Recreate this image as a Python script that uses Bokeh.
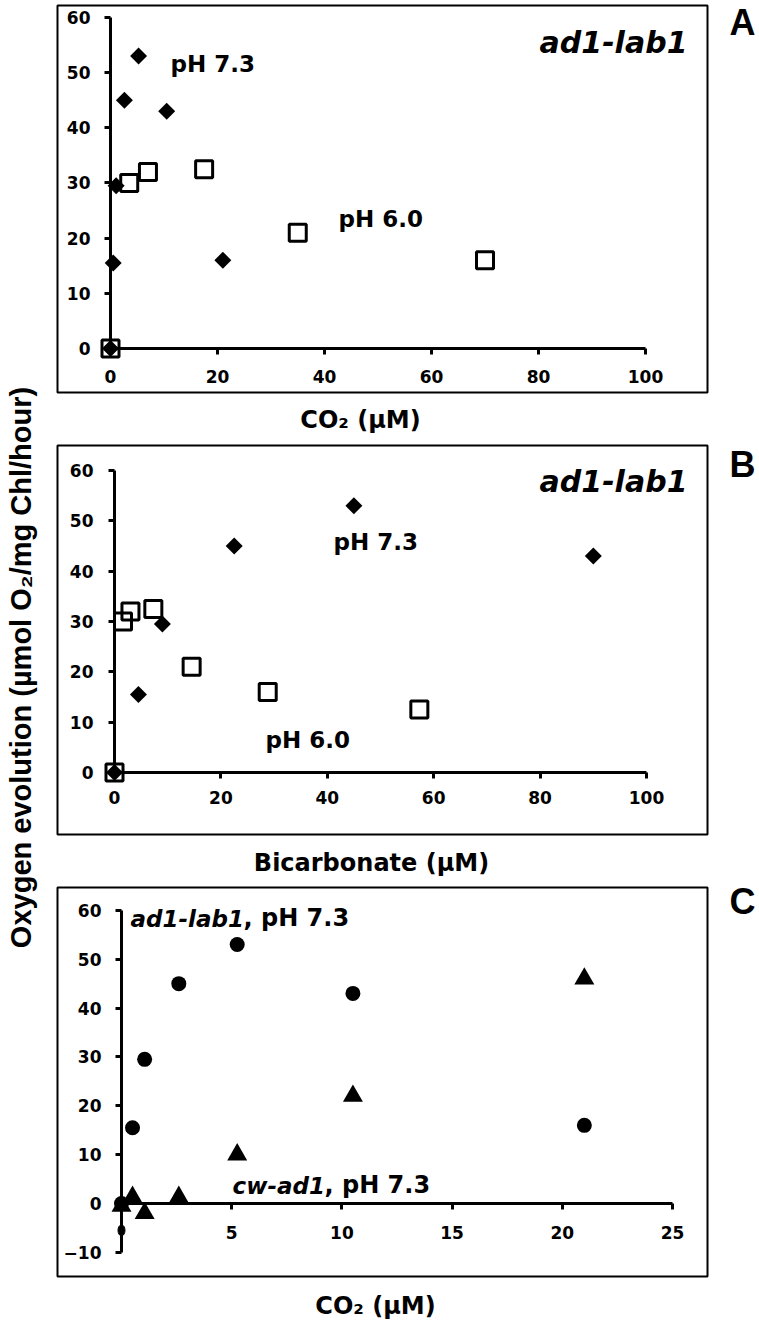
import numpy as np
from bokeh.plotting import figure
from bokeh.models import Range1d, FixedTicker, Label, BoxAnnotation
from bokeh.layouts import row, column
from bokeh.embed import file_html
from bokeh.resources import INLINE

# ---------------- data ----------------
# Panel A: O2 evolution vs CO2 (uM)
a_ph73_co2 = [0, 0.5, 1.05, 2.6, 5.25, 10.5, 21]
a_ph73_o2 = [0, 15.5, 29.5, 45, 53, 43, 16]
a_ph60_co2 = [0, 3.5, 7, 17.5, 35, 70]
a_ph60_o2 = [0, 30, 32, 32.5, 21, 16]
# Panel B: O2 evolution vs bicarbonate (uM)
b_ph73_hco3 = [0, 4.5, 9, 22.5, 45, 90]
b_ph73_o2 = [0, 15.5, 29.5, 45, 53, 43]
b_ph60_hco3 = [0, 1.6, 3.0, 7.3, 14.5, 28.8, 57.3]
b_ph60_o2 = [0, 30, 32, 32.5, 21, 16, 12.5]
# Panel C: O2 evolution vs CO2 (uM) at pH 7.3
c_co2 = [0, 0.5, 1.05, 2.6, 5.25, 10.5, 21]
c_ad1lab1_o2 = [0, 15.5, 29.5, 45, 53, 43, 16]
c_cwad1_o2 = [-0.5, 1.3, -2, 1.3, 10, 22, 46]
c_extra_co2 = [0]
c_extra_o2 = [-5.5]

# tick labels
ticks_ab_x = [0, 20, 40, 60, 80, 100]
ticks_ab_y = [0, 10, 20, 30, 40, 50, 60]
ticks_c_x = [5, 10, 15, 20, 25]
ticks_c_y = [-10, 0, 10, 20, 30, 40, 50, 60]

# ---------------- layout geometry (page pixels) ----------------
PAGE_BOTTOM = 1324
LEFT_W = 40
PANEL_X0 = LEFT_W
FIG_W = 718
BOX_L, BOX_R = 57, 707
BASE_K = 0.38   # label anchor offset (fraction of font size) to land on the baseline

TICK_FONT = "DejaVu Sans"
ANN_FONT = "DejaVu Sans"
TITLE_FONT = "DejaVu Sans"


def make_panel(fig_top, fig_bot, box_top, box_bot, x0px, xpu, y0px, ypu,
               xbounds, ybounds, xticks, yticks, xstand, ystand):
    def dx(px):
        return (px - x0px) / xpu

    def dy(py):
        return (y0px - py) / ypu

    p = figure(width=FIG_W, height=fig_bot - fig_top,
               x_range=Range1d(dx(PANEL_X0), dx(PANEL_X0 + FIG_W)),
               y_range=Range1d(dy(fig_bot), dy(fig_top)),
               min_border=0, toolbar_location=None, output_backend="svg")
    p.background_fill_color = "white"
    p.border_fill_color = "white"
    p.outline_line_color = None
    p.xgrid.visible = False
    p.ygrid.visible = False
    p.add_layout(BoxAnnotation(left=dx(BOX_L), right=dx(BOX_R),
                               top=dy(box_top), bottom=dy(box_bot),
                               fill_color=None, fill_alpha=0,
                               line_color="black", line_width=2, line_alpha=1))
    for ax, b, t, st in ((p.xaxis, xbounds, xticks, xstand), (p.yaxis, ybounds, yticks, ystand)):
        ax.fixed_location = 0
        ax.bounds = b
        ax.ticker = FixedTicker(ticks=t)
        ax.axis_line_width = 3
        ax.axis_line_color = "black"
        ax.major_tick_line_width = 3
        ax.major_tick_line_color = "black"
        ax.major_tick_out = 6
        ax.major_tick_in = 0
        ax.minor_tick_line_color = None
        ax.major_label_text_font = TICK_FONT
        ax.major_label_text_font_style = "bold"
        ax.major_label_text_font_size = "17px"
        ax.major_label_text_color = "black"
        ax.major_label_standoff = st

    def label(text, px, py, align="left", font=ANN_FONT, style="bold", size=23):
        p.add_layout(Label(x=dx(px), y=dy(py - BASE_K * size), text=text, text_font=font,
                           text_font_style=style, text_font_size=f"{size}px",
                           text_color="black", text_align=align,
                           text_baseline="alphabetic"))
    return p, label


# ---------------- panel A ----------------
pA, labA = make_panel(0, 440, 5, 392, 110, 5.35, 348, 5.517,
                      (0, 100), (0, 60), ticks_ab_x, ticks_ab_y, 15, 14)
pA.scatter(a_ph60_co2, a_ph60_o2, marker="square", size=17, fill_color=None,
           line_color="black", line_width=3)
pA.scatter(a_ph73_co2, a_ph73_o2, marker="square", angle=np.pi / 4, size=12,
           fill_color="black", line_color="black", line_width=0)
labA("ad1-lab1", 687, 53, align="right", style="bold italic", size=30)
labA("pH 7.3", 170, 72)
labA("pH 6.0", 338, 227)
labA("CO\u2082 (\u00b5M)", 360, 429, align="center", font=TITLE_FONT, size=24)
labA("A", 755, 36, align="right", font="Liberation Sans", size=36)

# ---------------- panel B ----------------
pB, labB = make_panel(440, 880, 445, 834, 114, 5.32, 772, 5.033,
                      (0, 100), (0, 60), ticks_ab_x, ticks_ab_y, 12, 15)
pB.scatter(b_ph60_hco3, b_ph60_o2, marker="square", size=17, fill_color=None,
           line_color="black", line_width=3)
pB.scatter(b_ph73_hco3, b_ph73_o2, marker="square", angle=np.pi / 4, size=12,
           fill_color="black", line_color="black", line_width=0)
labB("ad1-lab1", 687, 492, align="right", style="bold italic", size=30)
labB("pH 7.3", 333, 550)
labB("pH 6.0", 265, 748)
labB("Bicarbonate (\u00b5M)", 371, 872, align="center", font=TITLE_FONT, size=24)
labB("B", 755, 478, align="right", font="Liberation Sans", size=36)

# ---------------- panel C ----------------
pC, labC = make_panel(880, PAGE_BOTTOM, 887, 1276, 121, 22.04, 1203, 4.886,
                      (0, 25), (-10, 60), ticks_c_x, ticks_c_y, 16, 14)
pC.scatter(c_co2, c_cwad1_o2, marker="triangle", size=20, fill_color="black",
           line_color="black", line_width=0)
pC.scatter(c_co2, c_ad1lab1_o2, marker="circle", size=15, fill_color="black",
           line_color="black", line_width=0)
pC.ellipse(x=c_extra_co2, y=c_extra_o2, width=7, height=11, width_units="screen",
           height_units="screen", fill_color="black", line_color="black")
labC("ad1-lab1", 130, 927, style="bold italic")
labC(", pH 7.3", 243, 927, size=24)
labC("cw-ad1", 232, 1194, style="bold italic")
labC(", pH 7.3", 324, 1194, size=24)
labC("CO\u2082 (\u00b5M)", 375, 1315, align="center", font=TITLE_FONT, size=24)
labC("C", 755, 915, align="right", font="Liberation Sans", size=36)

# ---------------- shared y title ----------------
left = figure(width=LEFT_W, height=PAGE_BOTTOM, x_range=Range1d(0, LEFT_W),
              y_range=Range1d(0, PAGE_BOTTOM), min_border=0,
              x_axis_location=None, y_axis_location=None,
              toolbar_location=None, output_backend="svg")
left.outline_line_color = None
left.grid.visible = False
left.background_fill_color = "white"
left.border_fill_color = "white"
left.add_layout(Label(x=20, y=PAGE_BOTTOM - 667, angle=np.pi / 2,
                      text="Oxygen evolution (\u00b5mol O\u2082/mg Chl/hour)",
                      text_font="Liberation Sans", text_font_style="bold",
                      text_font_size="29px", text_color="black",
                      text_align="center", text_baseline="alphabetic"))

layout = row(left, column(pA, pB, pC))
open("out.html", "w").write(file_html(layout, INLINE))
